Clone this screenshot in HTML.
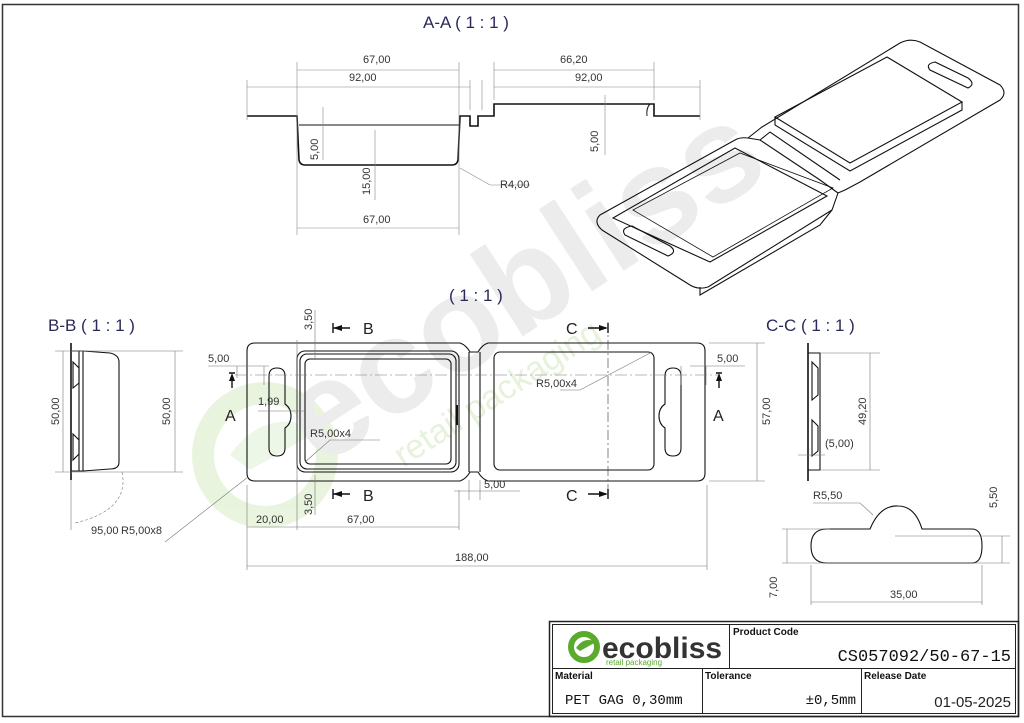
<!DOCTYPE html>
<html><head><meta charset="utf-8"><style>
html,body{margin:0;padding:0;background:#fff}
svg{display:block}
text{font-family:"Liberation Sans",Arial,sans-serif}
text.m{font-family:"Liberation Mono","DejaVu Sans Mono",monospace}
</style></head><body>
<svg width="1024" height="723" viewBox="0 0 1024 723" xmlns="http://www.w3.org/2000/svg">
<rect x="0" y="0" width="1024" height="723" fill="#fff"/>
<g opacity="0.45">
<circle cx="265" cy="455" r="62" fill="none" stroke="#cfe8b8" stroke-width="22"/>
<path d="M230 455 Q265 405 320 430 L250 470 Z" fill="#d9eecb"/>
</g>
<g transform="translate(320,468) rotate(-33)">
<text x="0" y="0" font-size="135" font-weight="bold" fill="#ececec">ecobliss</text>
<text x="70" y="45" font-size="34" fill="#e6f2dc">retail packaging</text>
</g>
<rect x="2.5" y="4.5" width="1016" height="712" fill="none" stroke="#333" stroke-width="1.5"/>

<g fill="none" stroke="#111" stroke-width="1">
<text x="423" y="28" font-size="17" fill="#2a2a5a" stroke="none">A-A  ( 1 : 1 )</text>
<path d="M247 116 H297 L299 160 Q300 165 305 165 H452 Q457 165 458 160 L460 116 H470 V126 H478 V116 H494 V104 H654 V116 H700" stroke-width="1.6"/>
<path d="M299 125 H459" />
<path d="M650 104 Q646 108 647 116"/>
<g stroke="#888" stroke-width="0.6">
<path d="M297 62 V235 M459 62 V235 M247 80 V120 M470 80 V110 M482 80 V110 M494 62 V100 M654 62 V100 M700 80 V120"/>
<path d="M297 70 H459 M297 87 H459 M247 87 H297 M459 87 H470 M494 70 H654 M494 87 H700 M297 228 H459"/>
<path d="M323 107 V160 M375 130 V200 M605 95 V155 M460 168 L490 185 H530"/>
</g>
</g>
<g font-size="11" fill="#333">
<text x="363" y="63">67,00</text><text x="349" y="81">92,00</text>
<text x="560" y="63">66,20</text><text x="575" y="81">92,00</text>
<text x="363" y="223">67,00</text><text x="500" y="188">R4,00</text>
<text transform="translate(318,160) rotate(-90)">5,00</text>
<text transform="translate(370,195) rotate(-90)">15,00</text>
<text transform="translate(598,152) rotate(-90)">5,00</text>
</g>

<g fill="none" stroke="#111" stroke-width="1.1">
<path d="M600 215 Q593 222 602 230 L690 285 Q698 290 708 287 L832 210 L838 193 L820 180 L760 140 L748 138 Q740 137 735 140 Z"/>
<path d="M613 218 L735 148 L827 196 L710 262 Z"/>
<path d="M633 210 L740 153 L833 188 L713 257 Z" stroke-width="0.8"/>
<path d="M625 235 Q620 228 632 226 L670 246 Q678 252 668 256 Z" />
<path d="M700 287 L700 295 L820 225 L832 210"/>
<path d="M748 138 L762 127 L900 43 Q910 38 920 42 L1000 85 Q1008 93 1000 100 L860 182 L845 190 L838 193"/>
<path d="M775 117 L887 57 L962 102 L850 163 Z"/>
<path d="M775 117 L775 125 L850 171 L962 110 L962 102"/>
<path d="M930 70 Q925 64 935 62 L968 78 Q976 84 968 88 Z"/>
<path d="M760 140 L770 132 L840 180"/>
</g>

<text x="449" y="301" font-size="17" fill="#2a2a5a">( 1 : 1 )</text>
<g fill="none" stroke="#111" stroke-width="1.1">
<path d="M255 343 H460 Q466 345 470 352 H478 Q482 345 488 343 H697 Q705 343 705 351 V473 Q705 481 697 481 H488 Q482 479 478 472 H470 Q466 479 460 481 H255 Q247 481 247 473 V351 Q247 343 255 343 Z"/>
<path d="M469 352 V472 M480 352 V472"/>
<rect x="297" y="351" width="162" height="121" rx="8"/>
<rect x="300" y="354" width="156" height="115" rx="7"/>
<rect x="305" y="359" width="146" height="105" rx="5"/>
<rect x="494" y="352" width="160" height="118" rx="6"/>
<path d="M269 376 Q269 368 277 368 Q285 368 285 376 V404 Q291 408 291 416 Q291 424 285 428 V448 Q285 456 277 456 Q269 456 269 448 Z"/>
<path d="M681 376 Q681 368 673 368 Q665 368 665 376 V404 Q659 408 659 416 Q659 424 665 428 V448 Q665 456 673 456 Q681 456 681 448 Z"/>
<path d="M457 405 V425" stroke-width="2"/>
</g>
<g fill="none" stroke="#777" stroke-width="0.6">
<path d="M235 375 H720" stroke-dasharray="12 3 2 3"/>
<path d="M608 322 V500" stroke-dasharray="10 3 2 3" stroke="#333"/>
<path d="M297 340 V530 M459 490 V530 M247 485 V570 M707 485 V570 M297 472 V530"/>
<path d="M247 527 H297 M297 527 H459 M247 566 H707"/>
<path d="M709 343 H765 M709 481 H765 M757 343 V481"/>
<path d="M315 310 V360 M315 475 V515 M208 366 H269 M237 366 V378 M264 366 V385 M690 366 H745 M681 366 V385 M706 366 V385"/>
<path d="M258 411 H305 M454 491 H520 M469 480 V500 M480 480 V500"/>
<path d="M305 462 L330 440 H380 M560 390 H580 L652 352 M248 477 L165 542"/>
</g>
<g fill="#111">
<path d="M333 328 l9 -3 v6 z M608 328 l-9 -3 v6 z" />
<path d="M333 494 l9 -3 v6 z M608 494 l-9 -3 v6 z"/>
<path d="M229 381 l3 -8 l3 8 z M716 381 l3 -8 l3 8 z"/>
</g>
<g stroke="#111" stroke-width="1.4">
<path d="M333 323 V333 M608 323 V333 M333 489 V499 M608 489 V499"/>
<path d="M333 328 H350 M588 328 H606 M333 494 H350 M588 494 H606 M232 378 V388 M719 378 V388"/>
<path d="M229 373 H235 M716 373 H722"/>
</g>
<g font-size="16" fill="#222">
<text x="363" y="334">B</text><text x="566" y="334">C</text>
<text x="363" y="501">B</text><text x="566" y="501">C</text>
<text x="225" y="421">A</text><text x="713" y="421">A</text>
</g>
<g font-size="11" fill="#333">
<text x="208" y="362">5,00</text><text x="717" y="362">5,00</text>
<text x="258" y="405">1,99</text>
<text x="310" y="437">R5,00x4</text><text x="536" y="387">R5,00x4</text>
<text x="484" y="488">5,00</text>
<text x="256" y="523">20,00</text><text x="347" y="523">67,00</text>
<text x="455" y="561">188,00</text>
<text transform="translate(312,330) rotate(-90)">3,50</text>
<text transform="translate(312,515) rotate(-90)">3,50</text>
<text transform="translate(770,425) rotate(-90)">57,00</text>
</g>

<text x="48" y="331" font-size="17" fill="#2a2a5a">B-B  ( 1 : 1 )</text>
<g fill="none" stroke="#111" stroke-width="1.1">
<path d="M71 343 V480" stroke-width="1.6"/>
<path d="M71 351 H83 L110 353 Q119 355 119 362 V462 Q119 469 110 469 L83 471 H71"/>
<path d="M79 351 V471 M83 351 V471"/>
<path d="M73 362 L79 368 V383 L73 388 Z M73 434 L79 440 V454 L73 460 Z"/>
</g>
<g fill="none" stroke="#777" stroke-width="0.6">
<path d="M55 351 H183 M55 472 H183 M63 351 V472 M175 351 V472 M71 480 V530"/>
<path d="M122 472 Q130 510 75 523" stroke-dasharray="3 2"/>
</g>
<g font-size="11" fill="#333">
<text transform="translate(59,425) rotate(-90)">50,00</text>
<text transform="translate(170,425) rotate(-90)">50,00</text>
<text x="91" y="534">95,00</text><text x="121" y="534">R5,00x8</text>
</g>

<text x="766" y="331" font-size="17" fill="#2a2a5a">C-C  ( 1 : 1 )</text>
<g fill="none" stroke="#111" stroke-width="1.1">
<path d="M808 343 V481" stroke-width="1.6"/>
<path d="M808 353 H820 V470 H808"/>
<path d="M812 362 L818 368 V395 L812 400 Z M812 420 L818 426 V451 L812 456 Z"/>
<path d="M827 529 H870 Q880 505 898 506 Q915 506 922 529 H972 Q982 529 982 546 Q982 563 972 563 H827 Q811 563 811 546 Q811 529 827 529 Z"/>
</g>
<g fill="none" stroke="#777" stroke-width="0.6">
<path d="M820 353 H880 M820 470 H880 M870 353 V470 M798 455 H825"/>
<path d="M782 529 H830 M782 563 H1010 M787 529 V563 M895 536 H1010 M1002 536 V563 M811 565 V605 M982 565 V605 M811 602 H982 M813 503 H860 L873 515"/>
</g>
<g font-size="11" fill="#333">
<text transform="translate(866,425) rotate(-90)">49,20</text>
<text x="825" y="447">(5,00)</text>
<text x="813" y="499">R5,50</text>
<text x="890" y="598">35,00</text>
<text transform="translate(777,598) rotate(-90)">7,00</text>
<text transform="translate(997,508) rotate(-90)">5,50</text>
</g>

<g fill="none" stroke="#222">
<rect x="549.5" y="621.5" width="469" height="95" stroke-width="1.5"/>
<rect x="552.5" y="624.5" width="463" height="89" stroke-width="1"/>
<path d="M729.5 624 V668 M552 668.5 H1015 M702.5 668 V713 M861.5 668 V713" stroke-width="1"/>
</g>
<circle cx="584" cy="647" r="13" fill="none" stroke="#5aaa2e" stroke-width="6"/>
<path d="M576 648 Q584 636 596 642 L580 651 Z" fill="#5aaa2e"/>
<text x="602" y="658" font-size="30" font-weight="bold" fill="#333">ecobliss</text>
<text x="606" y="665" font-size="8" fill="#5aaa2e">retail packaging</text>
<g font-size="10" font-weight="bold" fill="#111">
<text x="733" y="635">Product Code</text>
<text x="555" y="679">Material</text>
<text x="705" y="679">Tolerance</text>
<text x="864" y="679">Release Date</text>
</g>
<text class="m" x="1011" y="661" font-size="17" text-anchor="end" fill="#111">CS057092/50-67-15</text>
<text class="m" x="565" y="704" font-size="14" fill="#111">PET GAG 0,30mm</text>
<text class="m" x="856" y="704" font-size="14" text-anchor="end" fill="#111">±0,5mm</text>
<text x="1011" y="707" font-size="15" text-anchor="end" fill="#222">01-05-2025</text>
</svg>
</body></html>
